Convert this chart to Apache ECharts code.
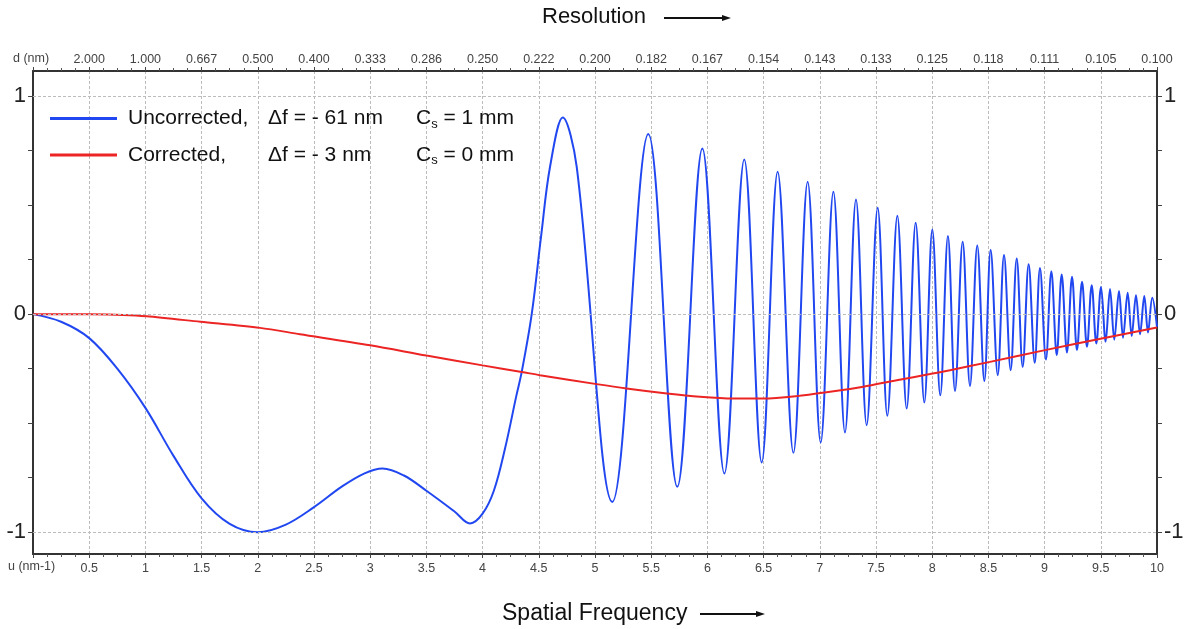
<!DOCTYPE html>
<html>
<head>
<meta charset="utf-8">
<script src="https://cdn.jsdelivr.net/npm/echarts@6/dist/echarts.min.js"></script>
<style>
html,body{margin:0;padding:0;background:#fff;}
#chart{width:1194px;height:629px;}
</style>
</head>
<body>
<div id="chart"></div>
<script>
// ---- data ----
// Uncorrected (blue): slow part up to the first big peak, then successive peaks and troughs
const blueU = [0, 0.25, 0.5, 0.75, 1.0, 1.25, 1.5, 1.75, 2.0, 2.25, 2.5, 2.75, 2.95, 3.11, 3.3, 3.5, 3.75, 3.888, 4.0, 4.1, 4.2, 4.3, 4.348, 4.437, 4.52, 4.6, 4.713, 4.837,
  5.154, 5.474, 5.732, 5.955, 6.151, 6.328, 6.483, 6.625, 6.765, 6.892, 7.008, 7.121, 7.224, 7.322, 7.417, 7.515, 7.601, 7.690, 7.773, 7.853, 7.930, 8.001, 8.072, 8.140, 8.203, 8.271, 8.336, 8.401, 8.464, 8.520, 8.583, 8.639, 8.698, 8.752, 8.805, 8.858, 8.912, 8.959, 9.012, 9.060, 9.108, 9.152, 9.199, 9.244, 9.288, 9.333, 9.377, 9.419, 9.460, 9.502, 9.543, 9.582, 9.620, 9.662, 9.698, 9.739, 9.775, 9.813, 9.849, 9.887, 9.920, 9.958, 10.0];
const blueV = [0, -0.035, -0.11, -0.25, -0.43, -0.65, -0.845, -0.962, -1.0, -0.965, -0.885, -0.79, -0.73, -0.708, -0.74, -0.81, -0.905, -0.96, -0.915, -0.81, -0.615, -0.375, -0.265, 0, 0.355, 0.676, 0.902, 0.676,
  -0.861, 0.826, -0.792, 0.760, -0.731, 0.709, -0.680, 0.653, -0.636, 0.607, -0.589, 0.561, -0.543, 0.526, -0.509, 0.488, -0.466, 0.451, -0.433, 0.419, -0.405, 0.388, -0.372, 0.358, -0.352, 0.332, -0.329, 0.315, -0.307, 0.294, -0.280, 0.271, -0.257, 0.255, -0.242, 0.229, -0.223, 0.212, -0.208, 0.197, -0.188, 0.182, -0.176, 0.171, -0.165, 0.148, -0.150, 0.133, -0.135, 0.125, -0.126, 0.115, -0.117, 0.106, -0.108, 0.098, -0.100, 0.087, -0.092, 0.083, -0.084, 0.075, -0.058];
// Corrected (red)
const redU = [0, 0.5, 0.8, 1.01, 1.49, 2.02, 2.375, 3.0, 3.5, 4.0, 4.348, 4.51, 5.015, 5.28, 5.64, 5.934, 6.23, 6.497, 6.794, 7.091, 7.387, 7.684, 7.98, 8.158, 8.514, 9.004, 9.508, 10];
const redV = [0, -0.001, -0.004, -0.01, -0.035, -0.063, -0.092, -0.143, -0.19, -0.235, -0.265, -0.28, -0.321, -0.341, -0.364, -0.379, -0.387, -0.387, -0.376, -0.356, -0.333, -0.303, -0.275, -0.257, -0.219, -0.165, -0.112, -0.061];

// tick labels
const uTickLabels = ['0.5','1','1.5','2','2.5','3','3.5','4','4.5','5','5.5','6','6.5','7','7.5','8','8.5','9','9.5','10'];
const dTickLabels = ['2.000','1.000','0.667','0.500','0.400','0.333','0.286','0.250','0.222','0.200','0.182','0.167','0.154','0.143','0.133','0.125','0.118','0.111','0.105','0.100'];
const yLabelValues = [-1, 0, 1];
const yTickValues = [-1, -0.75, -0.5, -0.25, 0, 0.25, 0.5, 0.75, 1];
const gridLineValues = [-1, 0, 1];

const seriesNames = ['Uncorrected', 'Corrected'];
const legendParts = {
  'Uncorrected': ['Uncorrected,', '\u0394f = - 61 nm', ' = 1 mm'],
  'Corrected':   ['Corrected,',   '\u0394f = - 3 nm',  ' = 0 mm']
};

function pairs(us, vs) { return us.map((u, i) => [u, vs[i]]); }

const FONT = '"Liberation Sans", Arial, Helvetica, sans-serif';
const BLUE = '#2147f0';
const RED = '#ec2424';

const chart = echarts.init(document.getElementById('chart'), null, {renderer: 'canvas'});

function tickIdxLabel(arr) {
  return function (val) {
    const idx = Math.round(val * 2) - 1;
    return (idx >= 0 && idx < arr.length) ? arr[idx] : '';
  };
}

const xCommon = {
  type: 'value', min: 0, max: 10, interval: 0.5,
  axisLine: {show: true, onZero: false, lineStyle: {color: '#333', width: 2}},
  axisTick: {show: true, length: 4, lineStyle: {color: '#444'}},
  minorTick: {show: true, splitNumber: 4, length: 3, lineStyle: {color: '#555'}},
};

const yCommon = {
  type: 'value', min: -1.1, max: 1.115,
  axisLine: {show: true, onZero: false, lineStyle: {color: '#333', width: 2}},
  axisTick: {show: true, length: 5, customValues: yTickValues, lineStyle: {color: '#444'}},
  axisLabel: {customValues: yLabelValues, fontSize: 22, color: '#222', fontFamily: FONT, margin: 7,
              formatter: v => String(Math.round(v))},
  splitLine: {show: false},
  minorTick: {show: false}
};

const option = {
  animation: false,
  backgroundColor: '#fff',
  grid: {left: 33, right: 37, top: 71, bottom: 75, containLabel: false},
  legend: {
    data: seriesNames,
    orient: 'vertical', left: 45, top: 103,
    itemWidth: 67, itemHeight: 3, itemGap: 14,
    icon: 'rect',
    selectedMode: false,
    formatter: function (name) {
      const p = legendParts[name];
      return '{a|' + p[0] + '}{b|' + p[1] + '}{c|C}{s|s}{d|' + p[2] + '}';
    },
    textStyle: {
      fontFamily: FONT, fontSize: 21, color: '#111',
      rich: {
        a: {fontFamily: FONT, fontSize: 21, color: '#111', width: 140, padding: [0, 0, 0, 6], lineHeight: 24},
        b: {fontFamily: FONT, fontSize: 21, color: '#111', width: 148, lineHeight: 24},
        c: {fontFamily: FONT, fontSize: 21, color: '#111', lineHeight: 24},
        s: {fontFamily: FONT, fontSize: 13, color: '#111', lineHeight: 12, verticalAlign: 'bottom'},
        d: {fontFamily: FONT, fontSize: 21, color: '#111', lineHeight: 24}
      }
    }
  },
  xAxis: [
    Object.assign({}, xCommon, {
      position: 'bottom',
      splitLine: {show: true, lineStyle: {color: '#bcbcbc', type: [3, 2], width: 1}},
      axisLabel: {formatter: tickIdxLabel(uTickLabels), fontSize: 12.5, color: '#444', fontFamily: FONT,
                  margin: 8, interval: 0, showMinLabel: true, showMaxLabel: true, hideOverlap: false}
    }),
    Object.assign({}, xCommon, {
      position: 'top',
      splitLine: {show: false},
      axisLabel: {formatter: tickIdxLabel(dTickLabels), fontSize: 12.5, color: '#444', fontFamily: FONT,
                  margin: 5, interval: 0, showMinLabel: true, showMaxLabel: true, hideOverlap: false}
    })
  ],
  yAxis: [
    Object.assign({}, yCommon, {position: 'left'}),
    Object.assign({}, yCommon, {position: 'right'})
  ],
  series: [
    {
      name: 'gridlines', type: 'line', data: [], z: 1, silent: true,
      markLine: {
        silent: true, symbol: ['none', 'none'], animation: false,
        label: {show: false},
        lineStyle: {color: '#bcbcbc', type: [3, 2], width: 1},
        data: gridLineValues.map(v => ({yAxis: v}))
      }
    },
    {
      name: 'Uncorrected', type: 'line', xAxisIndex: 0, yAxisIndex: 0,
      data: pairs(blueU, blueV), showSymbol: false, symbol: 'none',
      smooth: 0.36, lineStyle: {color: BLUE, width: 2}, itemStyle: {color: BLUE}, z: 3
    },
    {
      name: 'Corrected', type: 'line', xAxisIndex: 0, yAxisIndex: 0,
      data: pairs(redU, redV), showSymbol: false, symbol: 'none',
      smooth: 0.3, lineStyle: {color: RED, width: 2}, itemStyle: {color: RED}, z: 4
    }
  ],
  graphic: [
    {type: 'text', left: 542, top: 6, style: {text: 'Resolution', font: '22px ' + FONT, fill: '#111'}},
    {type: 'line', shape: {x1: 664, y1: 18, x2: 724, y2: 18}, style: {stroke: '#111', lineWidth: 2}},
    {type: 'polygon', shape: {points: [[722, 15], [731, 18], [722, 21]]}, style: {fill: '#111'}},
    {type: 'text', left: 502, top: 602, style: {text: 'Spatial Frequency', font: '23px ' + FONT, fill: '#111'}},
    {type: 'line', shape: {x1: 700, y1: 614, x2: 758, y2: 614}, style: {stroke: '#111', lineWidth: 2}},
    {type: 'polygon', shape: {points: [[756, 611], [765, 614], [756, 617]]}, style: {fill: '#111'}},
    {type: 'text', left: 8, top: 560, style: {text: 'u (nm-1)', font: '12.5px ' + FONT, fill: '#444'}},
    {type: 'text', left: 13, top: 52, style: {text: 'd (nm)', font: '12.5px ' + FONT, fill: '#444'}}
  ]
};

chart.setOption(option);
</script>
</body>
</html>
